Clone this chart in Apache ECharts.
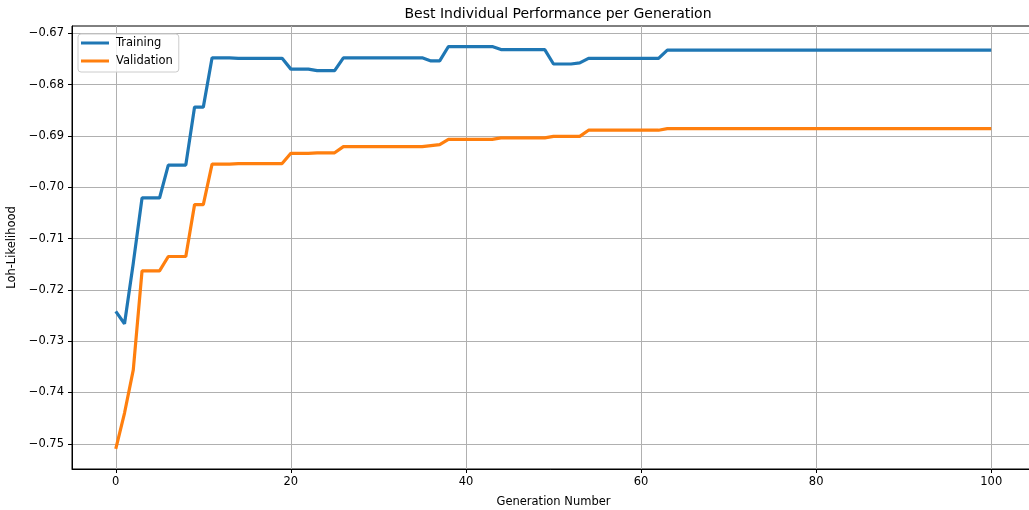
<!DOCTYPE html>
<html>
<head>
<meta charset="utf-8">
<script src="https://cdn.jsdelivr.net/npm/echarts@6/dist/echarts.min.js"></script>
<style>html,body{margin:0;padding:0;background:#fff}#c{width:1029px;height:510px}</style>
</head>
<body>
<div id="c"></div>
<script>
const generations = Array.from({length: 101}, (_, i) => i);
const training = [
  -0.7242, -0.7266, -0.7148, -0.7021, -0.7021, -0.7021, -0.6957, -0.6957, -0.6957, -0.6844,
  -0.6844, -0.6748, -0.6748, -0.6748, -0.6749, -0.6749, -0.6749, -0.6749, -0.6749, -0.6749,
  -0.6770, -0.6770, -0.6770, -0.6773, -0.6773, -0.6773, -0.6748, -0.6748, -0.6748, -0.6748,
  -0.6748, -0.6748, -0.6748, -0.6748, -0.6748, -0.6748, -0.6754, -0.6754, -0.6726, -0.6726,
  -0.6726, -0.6726, -0.6726, -0.6726, -0.6732, -0.6732, -0.6732, -0.6732, -0.6732, -0.6732,
  -0.6760, -0.6760, -0.6760, -0.6758, -0.6749, -0.6749, -0.6749, -0.6749, -0.6749, -0.6749,
  -0.6749, -0.6749, -0.6749, -0.6733, -0.6733, -0.6733, -0.6733, -0.6733, -0.6733, -0.6733,
  -0.6733, -0.6733, -0.6733, -0.6733, -0.6733, -0.6733, -0.6733, -0.6733, -0.6733, -0.6733,
  -0.6733, -0.6733, -0.6733, -0.6733, -0.6733, -0.6733, -0.6733, -0.6733, -0.6733, -0.6733,
  -0.6733, -0.6733, -0.6733, -0.6733, -0.6733, -0.6733, -0.6733, -0.6733, -0.6733, -0.6733,
  -0.6733
];
const validation = [
  -0.7510, -0.7440, -0.7356, -0.7163, -0.7163, -0.7163, -0.7135, -0.7135, -0.7135, -0.7034,
  -0.7034, -0.6955, -0.6955, -0.6955, -0.6954, -0.6954, -0.6954, -0.6954, -0.6954, -0.6954,
  -0.6934, -0.6934, -0.6934, -0.6933, -0.6933, -0.6933, -0.6921, -0.6921, -0.6921, -0.6921,
  -0.6921, -0.6921, -0.6921, -0.6921, -0.6921, -0.6921, -0.6919, -0.6917, -0.6907, -0.6907,
  -0.6907, -0.6907, -0.6907, -0.6907, -0.6904, -0.6904, -0.6904, -0.6904, -0.6904, -0.6904,
  -0.6901, -0.6901, -0.6901, -0.6901, -0.6889, -0.6889, -0.6889, -0.6889, -0.6889, -0.6889,
  -0.6889, -0.6889, -0.6889, -0.6886, -0.6886, -0.6886, -0.6886, -0.6886, -0.6886, -0.6886,
  -0.6886, -0.6886, -0.6886, -0.6886, -0.6886, -0.6886, -0.6886, -0.6886, -0.6886, -0.6886,
  -0.6886, -0.6886, -0.6886, -0.6886, -0.6886, -0.6886, -0.6886, -0.6886, -0.6886, -0.6886,
  -0.6886, -0.6886, -0.6886, -0.6886, -0.6886, -0.6886, -0.6886, -0.6886, -0.6886, -0.6886,
  -0.6886
];
const xTicks = [0, 20, 40, 60, 80, 100];
const yTicks = [-0.75, -0.74, -0.73, -0.72, -0.71, -0.70, -0.69, -0.68, -0.67];

const FONT = 'DejaVu Sans';
const chart = echarts.init(document.getElementById('c'), null, {renderer: 'canvas'});
const fmtY = v => (v < 0 ? '\u2212' : '') + Math.abs(v).toFixed(2);

chart.setOption({
  animation: false,
  backgroundColor: '#fff',
  title: {
    text: 'Best Individual Performance per Generation',
    left: 553, top: 2, textAlign: 'center',
    textStyle: {fontFamily: FONT, fontSize: 14, fontWeight: 'normal', color: '#000'}
  },
  legend: {
    orient: 'vertical', left: 78, top: 34,
    data: ['Training', 'Validation'],
    icon: 'rect', itemWidth: 28, itemHeight: 3, itemGap: 4,
    padding: [2, 6, 4, 3],
    backgroundColor: 'rgba(255,255,255,0.8)',
    borderColor: '#cccccc', borderWidth: 1, borderRadius: 3,
    textStyle: {fontFamily: FONT, fontSize: 11.5, color: '#000', lineHeight: 14, padding: [0, 0, 0, 2]}
  },
  grid: {
    left: 72, right: -6, top: 26, bottom: 41,
    outerBoundsMode: 'none', containLabel: false,
    show: true, borderColor: '#000', borderWidth: 1, backgroundColor: 'transparent'
  },
  xAxis: {
    type: 'value', min: -5, max: 105,
    name: 'Generation Number', nameLocation: 'middle', nameGap: 27,
    nameTextStyle: {fontFamily: FONT, fontSize: 11.5, color: '#000'},
    axisLine: {show: true, onZero: false, lineStyle: {color: '#000', width: 1}},
    axisTick: {show: true, length: 4, customValues: xTicks, lineStyle: {color: '#000'}},
    axisLabel: {customValues: xTicks, margin: 7, fontFamily: FONT, fontSize: 11.5, color: '#000'},
    splitLine: {show: true, lineStyle: {color: '#b0b0b0', width: 1}}
  },
  yAxis: {
    type: 'value', min: -0.7549, max: -0.6686,
    name: 'Loh-Likelihood', nameLocation: 'middle', nameGap: 51,
    nameTextStyle: {fontFamily: FONT, fontSize: 11.5, color: '#000'},
    axisLine: {show: true, onZero: false, lineStyle: {color: '#000', width: 1}},
    axisTick: {show: true, length: 4, customValues: yTicks, lineStyle: {color: '#000'}},
    axisLabel: {customValues: yTicks, margin: 8, fontFamily: FONT, fontSize: 11.5, color: '#000', formatter: fmtY},
    splitLine: {show: true, lineStyle: {color: '#b0b0b0', width: 1}}
  },
  series: [
    {
      name: 'Training', type: 'line', showSymbol: false, symbol: 'none',
      data: generations.map((g, i) => [g, training[i]]),
      lineStyle: {color: '#1f77b4', width: 3.2}, itemStyle: {color: '#1f77b4'}
    },
    {
      name: 'Validation', type: 'line', showSymbol: false, symbol: 'none',
      data: generations.map((g, i) => [g, validation[i]]),
      lineStyle: {color: '#ff7f0e', width: 3.2}, itemStyle: {color: '#ff7f0e'}
    }
  ]
});
</script>
</body>
</html>
